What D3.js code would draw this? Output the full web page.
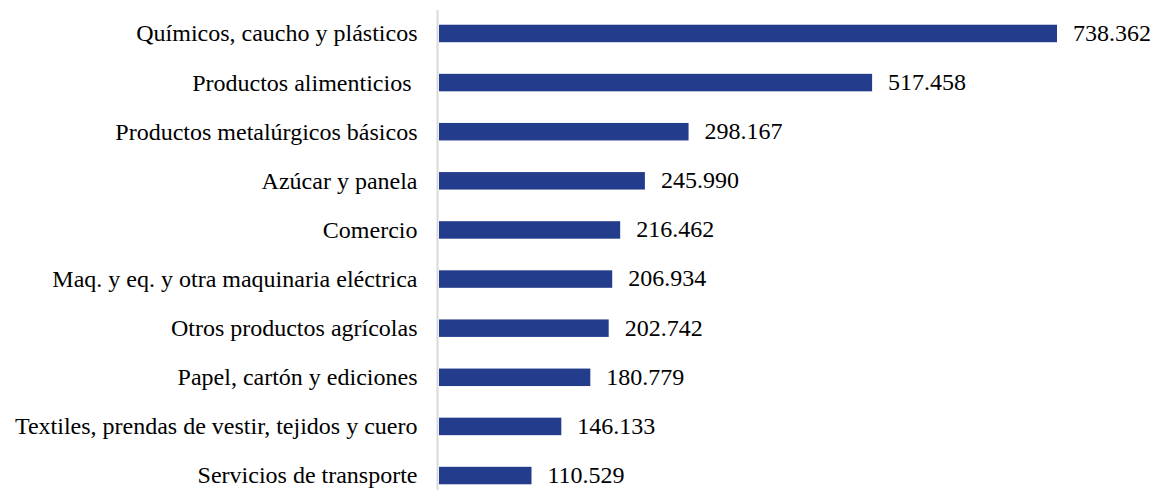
<!DOCTYPE html>
<html>
<head>
<meta charset="utf-8">
<script src="https://cdn.jsdelivr.net/npm/d3@7"></script>
<style>
  html, body { margin: 0; padding: 0; background: #fff; }
  svg text { font-family: "Liberation Serif", "Times New Roman", serif; fill: #000; white-space: pre; }
</style>
</head>
<body>
<svg id="chart" width="1151" height="490"></svg>
<script>
// Sectors and their values
const categories = [
  "Químicos, caucho y plásticos",
  "Productos alimenticios ",
  "Productos metalúrgicos básicos",
  "Azúcar y panela",
  "Comercio",
  "Maq. y eq. y otra maquinaria eléctrica",
  "Otros productos agrícolas",
  "Papel, cartón y ediciones",
  "Textiles, prendas de vestir, tejidos y cuero",
  "Servicios de transporte"
];
const values = [738.362, 517.458, 298.167, 245.990, 216.462, 206.934, 202.742, 180.779, 146.133, 110.529];
const valueLabels = ["738.362", "517.458", "298.167", "245.990", "216.462", "206.934", "202.742", "180.779", "146.133", "110.529"];

const svg = d3.select("#chart");
const width = 1151, height = 490;
const axisTop = 10, left = 439, right = 94;
const fontSize = 24;

const x = d3.scaleLinear()
  .domain([0, 738.362])
  .range([left, width - right]);

const y = d3.scaleBand()
  .domain(categories)
  .range([9, 500])
  .paddingInner(0.644)
  .paddingOuter(0.32);

// Bars
svg.selectAll("rect.bar")
  .data(values)
  .join("rect")
  .attr("class", "bar")
  .attr("x", x(0))
  .attr("y", (d, i) => y(categories[i]))
  .attr("width", d => x(d) - x(0))
  .attr("height", y.bandwidth())
  .attr("fill", "#243c8c");

// Category axis
const axis = d3.axisLeft(y).tickSize(0).tickPadding(20);
const g = svg.append("g")
  .attr("transform", `translate(${x(0) - 1.5},0)`)
  .call(axis);
g.select(".domain").attr("stroke", "#d9d9d9").attr("stroke-width", 2)
  .attr("d", `M0,${axisTop}V${height}`);
g.selectAll("text")
  .attr("font-size", fontSize)
  .attr("font-family", "'Liberation Serif', 'Times New Roman', serif")
  .attr("fill", "#000")
  .attr("dy", "0.33em");

// Value labels
svg.selectAll("text.val")
  .data(values)
  .join("text")
  .attr("class", "val")
  .attr("x", d => x(d) + 16)
  .attr("y", (d, i) => y(categories[i]) + y.bandwidth() / 2)
  .attr("dy", "0.31em")
  .attr("font-size", fontSize)
  .text((d, i) => valueLabels[i]);
</script>
</body>
</html>
